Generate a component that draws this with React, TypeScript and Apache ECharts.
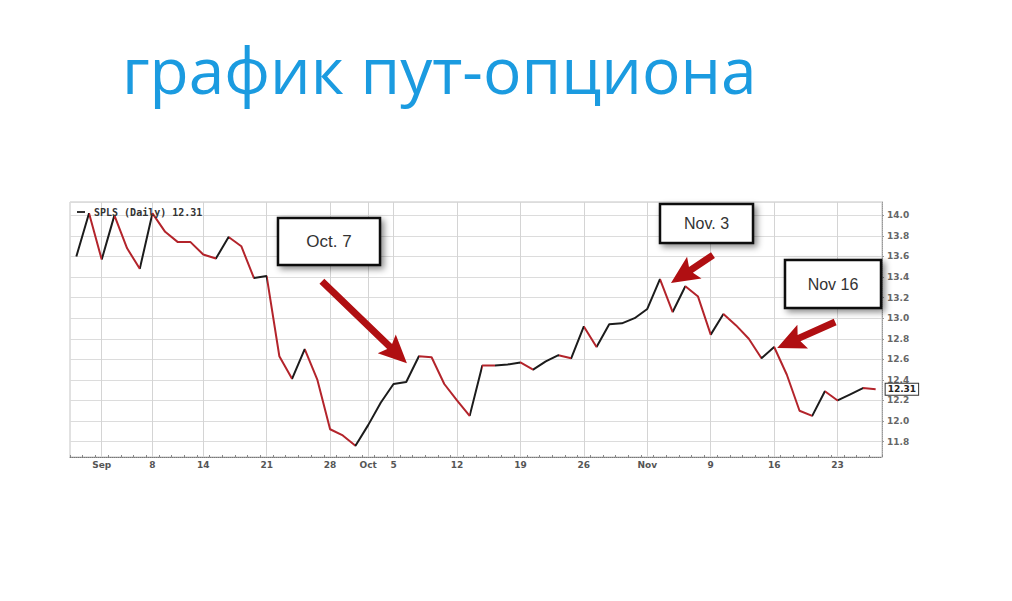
import { useEffect, useRef } from "react";
import * as echarts from "echarts";

// trading days shown on the chart
const DATES = [
  "Aug 28", "Aug 31",
  "Sep 1", "Sep 2", "Sep 3", "Sep 4", "Sep 8", "Sep 9", "Sep 10", "Sep 11",
  "Sep 14", "Sep 15", "Sep 16", "Sep 17", "Sep 18", "Sep 21", "Sep 22", "Sep 23",
  "Sep 24", "Sep 25", "Sep 28", "Sep 29", "Sep 30",
  "Oct 1", "Oct 2", "Oct 5", "Oct 6", "Oct 7", "Oct 8", "Oct 9", "Oct 12",
  "Oct 13", "Oct 14", "Oct 15", "Oct 16", "Oct 19", "Oct 20", "Oct 21", "Oct 22",
  "Oct 23", "Oct 26", "Oct 27", "Oct 28", "Oct 29", "Oct 30",
  "Nov 2", "Nov 3", "Nov 4", "Nov 5", "Nov 6", "Nov 9", "Nov 10", "Nov 11",
  "Nov 12", "Nov 13", "Nov 16", "Nov 17", "Nov 18", "Nov 19", "Nov 20", "Nov 23",
  "Nov 24", "Nov 25", "Nov 27",
];

const CLOSES = [
  13.6, 14.02,
  13.57, 14.0, 13.68, 13.48, 14.02, 13.84, 13.74, 13.74,
  13.62, 13.58, 13.79, 13.7, 13.39, 13.41, 12.63, 12.41,
  12.7, 12.4, 11.92, 11.86, 11.76,
  11.96, 12.18, 12.36, 12.38, 12.63, 12.62, 12.36, 12.2,
  12.05, 12.54, 12.54, 12.55, 12.57, 12.5, 12.58, 12.64,
  12.61, 12.92, 12.72, 12.94, 12.95, 13.0,
  13.09, 13.38, 13.06, 13.31, 13.21, 12.84, 13.04, 12.93,
  12.8, 12.61, 12.72, 12.45, 12.1, 12.05, 12.29, 12.2,
  12.26, 12.32, 12.31,
];

// x-axis tick labels, keyed by trading day
const TICK_LABELS: Record<string, string> = {
  "Sep 1": "Sep", "Sep 8": "8", "Sep 14": "14", "Sep 21": "21", "Sep 28": "28",
  "Oct 1": "Oct", "Oct 5": "5", "Oct 12": "12", "Oct 19": "19", "Oct 26": "26",
  "Nov 2": "Nov", "Nov 9": "9", "Nov 16": "16", "Nov 23": "23",
};

const NOTE_DATES = ["Oct 7", "Nov 3", "Nov 16"];
const NOTE_TEXTS = ["Oct. 7", "Nov. 3", "Nov 16"];

const TITLE = "график пут-опциона";
const LAST = CLOSES[CLOSES.length - 1];
const SERIES_NAME = `SPLS (Daily) ${LAST.toFixed(2)}`;

const UP = "#1c1c1c";
const DOWN = "#b3242b";
const ARROW = "#b00f12";

// callout layout: box, arrow tip offset from the data point, tail offset from the tip
const NOTE_LAYOUT = [
  { box: [278, 218, 102, 47], tip: [-12, 7], tail: [-85, -82], font: 17 },
  { box: [660, 204, 93, 39], tip: [11, 4], tail: [42, -28], font: 16 },
  { box: [785, 260, 96, 48], tip: [3, 1], tail: [58, -26], font: 16 },
];

function arrowPoints(tail: number[], tip: number[]) {
  const dx = tip[0] - tail[0];
  const dy = tip[1] - tail[1];
  const len = Math.hypot(dx, dy);
  const ux = dx / len, uy = dy / len;
  const nx = -uy, ny = ux;
  const shaft = 3.5, head = 13, headLen = 24;
  const neck = [tip[0] - ux * headLen, tip[1] - uy * headLen];
  return [
    [tail[0] + nx * shaft, tail[1] + ny * shaft],
    [neck[0] + nx * shaft, neck[1] + ny * shaft],
    [neck[0] - ux * 4 + nx * head, neck[1] - uy * 4 + ny * head],
    tip,
    [neck[0] - ux * 4 - nx * head, neck[1] - uy * 4 - ny * head],
    [neck[0] - nx * shaft, neck[1] - ny * shaft],
    [tail[0] - nx * shaft, tail[1] - ny * shaft],
  ];
}

export default function App() {
  const ref = useRef<HTMLDivElement>(null);

  useEffect(() => {
    if (!ref.current) return;
    const chart = echarts.init(ref.current, null, { renderer: "svg" });

    // colour each segment: red when the close falls, black when it rises
    const pieces: any[] = [{ lte: 0, color: UP }];
    for (let i = 0; i < CLOSES.length - 1; i++) {
      pieces.push({ gt: i, lte: i + 1, color: CLOSES[i + 1] > CLOSES[i] ? UP : DOWN });
    }

    const isTick = (idx: number) => TICK_LABELS[DATES[idx]] !== undefined;

    chart.setOption({
      animation: false,
      backgroundColor: "#fff",
      grid: {
        left: 70, right: 130, top: 202, bottom: 144,
        show: true, borderColor: "#c4c4c4", borderWidth: 1,
      },
      legend: {
        left: 72, top: 202, icon: "rect", itemWidth: 8, itemHeight: 2, itemGap: 4,
        selectedMode: false,
        textStyle: { fontFamily: "DejaVu Sans Mono", fontSize: 10, fontWeight: "bold", color: "#333", padding: [0, 0, 0, 4] },
        data: [{ name: SERIES_NAME, itemStyle: { color: "#333" } }],
      },
      visualMap: { show: false, dimension: 0, seriesIndex: 0, pieces },
      xAxis: {
        type: "category",
        data: DATES,
        boundaryGap: true,
        axisLine: { lineStyle: { color: "#777", type: "dotted" } },
        axisTick: { show: true, interval: 0, length: 2, inside: true, lineStyle: { color: "#888" } },
        axisLabel: {
          interval: (idx: number) => isTick(idx),
          formatter: (v: string) => TICK_LABELS[v] ?? "",
          margin: 3, fontSize: 9, fontWeight: "bold", color: "#555", fontFamily: "DejaVu Sans",
        },
        splitLine: {
          show: true, alignWithLabel: true,
          interval: (idx: number) => isTick(idx),
          lineStyle: { color: "#d4d4d4", width: 1 },
        },
      },
      yAxis: {
        type: "value",
        position: "right",
        min: 11.65,
        max: 14.13,
        splitNumber: 12,
        axisLine: { show: true, lineStyle: { color: "#999", type: "dotted" } },
        axisTick: { show: true, length: 2, lineStyle: { color: "#999" } },
        axisLabel: {
          showMinLabel: false, showMaxLabel: false,
          formatter: (v: number) => v.toFixed(1),
          margin: 5, fontSize: 9, fontWeight: "bold", color: "#666", fontFamily: "DejaVu Sans",
        },
        splitLine: { lineStyle: { color: "#dcdcdc" } },
      },
      series: [
        {
          name: SERIES_NAME,
          type: "line",
          data: CLOSES,
          showSymbol: false,
          lineStyle: { width: 2 },
          itemStyle: { color: "#333" },
          endLabel: {
            show: true,
            formatter: (p: any) => Number(p.value).toFixed(2),
            distance: 10,
            fontSize: 9, fontWeight: "bold", color: "#222", fontFamily: "DejaVu Sans",
            backgroundColor: "#fff", borderColor: "#333", borderWidth: 1, padding: [1, 2],
          },
        },
      ],
    });

    const notes: any[] = [];
    NOTE_DATES.forEach((d, k) => {
      const lay = NOTE_LAYOUT[k];
      const idx = DATES.indexOf(d);
      const p = chart.convertToPixel({ seriesIndex: 0 }, [idx, CLOSES[idx]]) as number[];
      const tip = [p[0] + lay.tip[0], p[1] + lay.tip[1]];
      const tail = [tip[0] + lay.tail[0], tip[1] + lay.tail[1]];
      const [bx, by, bw, bh] = lay.box;
      notes.push(
        {
          type: "polygon", id: `arrow${k}`, z: 100,
          shape: { points: arrowPoints(tail, tip) },
          style: { fill: ARROW },
        },
        {
          type: "rect", id: `box${k}`, z: 100,
          shape: { x: bx, y: by, width: bw, height: bh },
          style: {
            fill: "#fff", stroke: "#111", lineWidth: 2.5,
            shadowBlur: 6, shadowOffsetX: 3, shadowOffsetY: 3, shadowColor: "rgba(0,0,0,0.45)",
          },
        },
        {
          type: "text", id: `note${k}`, z: 101,
          x: bx + bw / 2, y: by + bh / 2,
          style: {
            text: NOTE_TEXTS[k], fill: "#333", font: `${lay.font}px 'Liberation Sans'`,
            align: "center", verticalAlign: "middle",
          },
        },
      );
    });

    chart.setOption({
      graphic: [
        {
          type: "text", id: "title", x: 122, y: 69,
          style: {
            text: TITLE, fill: "#1b9be0", font: "500 64px 'Open Sans'",
            align: "left", verticalAlign: "middle",
          },
        },
        ...notes,
      ],
    });

    return () => chart.dispose();
  }, []);

  return (
    <div
      ref={ref}
      style={{ position: "fixed", left: 0, top: 0, width: "1012px", height: "601px", background: "#fff" }}
    />
  );
}
